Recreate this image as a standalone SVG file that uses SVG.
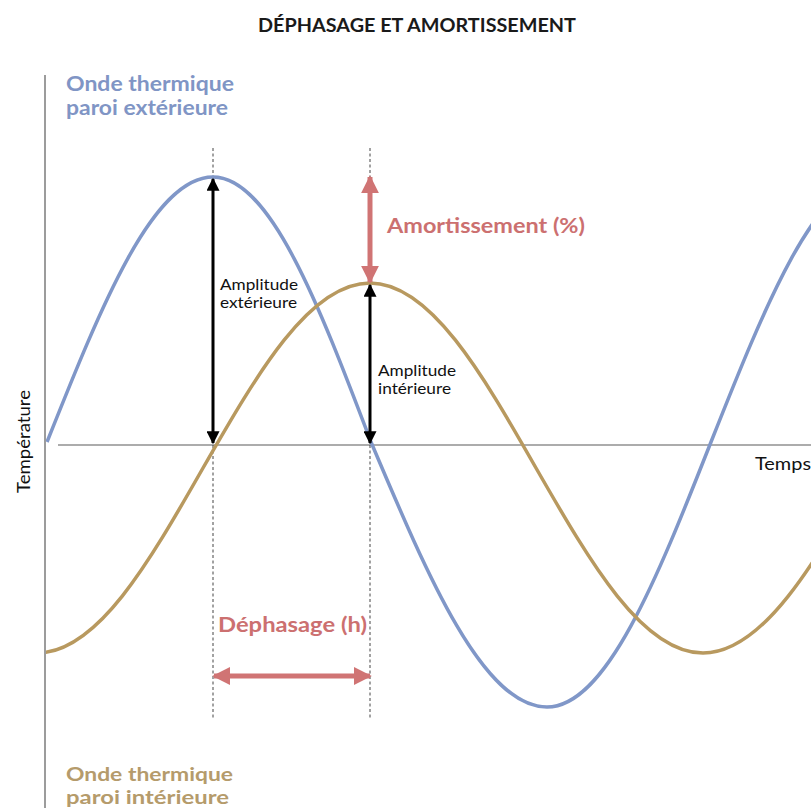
<svg xmlns="http://www.w3.org/2000/svg" width="811" height="811" viewBox="0 0 811 811">
<style>
  text { font-family: Lato, "Open Sans", "Liberation Sans", sans-serif; }
  .title { font-size: 18.5px; font-weight: 700; fill: #1a1a1a; }
  .lbl-blue { font-size: 20px; font-weight: 700; fill: #8095c5; }
  .lbl-gold { font-size: 19.5px; font-weight: 700; fill: #b59b6b; }
  .lbl-red { font-size: 21px; font-weight: 700; fill: #cc7070; }
  .small { font-size: 16px; fill: #111; }
  .axis-t { font-size: 16.5px; fill: #111; }
  .axis { stroke: #5a5a5a; stroke-width: 1.2; fill: none; }
  .dash { stroke: #444; stroke-width: 1; stroke-dasharray: 3 2.5; fill: none; }
  .blue { stroke: #8097c8; stroke-width: 3.5; fill: none; }
  .gold { stroke: #b8995f; stroke-width: 3.5; fill: none; }
  .blk { stroke: #000; stroke-width: 3; fill: none; }
  .red { stroke: #d07474; stroke-width: 5; fill: none; }
</style>
<defs>
  <marker id="ab" viewBox="0 0 10 10" refX="9" refY="5" markerWidth="13" markerHeight="13" markerUnits="userSpaceOnUse" orient="auto-start-reverse">
    <path d="M0,0 L10,5 L0,10 Z" fill="#000"/>
  </marker>
  <marker id="ar" viewBox="0 0 10 10" refX="9" refY="5" markerWidth="18" markerHeight="18" markerUnits="userSpaceOnUse" orient="auto-start-reverse">
    <path d="M0,0 L10,5 L0,10 Z" fill="#d07474"/>
  </marker>
  <clipPath id="plot"><rect x="46" y="0" width="765" height="811"/></clipPath>
</defs>

<text class="title" x="258" y="32" textLength="318" lengthAdjust="spacingAndGlyphs">DÉPHASAGE ET AMORTISSEMENT</text>

<g id="axes">
  <line class="axis" x1="45" y1="75" x2="45" y2="808"/>
  <line class="axis" x1="58" y1="445" x2="811" y2="445"/>
  <text class="axis-t" transform="translate(30,493) rotate(-90)" textLength="103" lengthAdjust="spacingAndGlyphs">Température</text>
  <text class="axis-t" x="755" y="470" textLength="56" lengthAdjust="spacingAndGlyphs">Temps</text>
</g>

<g id="guides">
  <line class="dash" x1="213" y1="148" x2="213" y2="720"/>
  <line class="dash" x1="370" y1="148" x2="370" y2="720"/>
</g>

<g id="onde-exterieure">
  <path class="blue" clip-path="url(#plot)" d="M47,442 C101.1,306.3 152.9,177 213,177 C270.2,177 319.5,306.3 371,442 C428.4,577.7 483.3,707 547,707 C606.4,707 657.5,577.7 711,442 C764.8,306.3 816.3,177 876,177"/>
  <text class="lbl-blue" x="66" y="91" textLength="168" lengthAdjust="spacingAndGlyphs">Onde thermique</text>
  <text class="lbl-blue" x="66" y="115" textLength="162" lengthAdjust="spacingAndGlyphs">paroi extérieure</text>
</g>

<g id="onde-interieure">
  <path class="gold" clip-path="url(#plot)" d="M37,653 C97.1,653 148.9,562.8 203,468 C257.5,373.2 309.6,283 370,283 C430.1,283 481.9,373.2 536,468 C590.5,562.8 642.6,653 703,653 C763.1,653 814.9,562.8 869,468"/>
  <text class="lbl-gold" x="66" y="781" textLength="167" lengthAdjust="spacingAndGlyphs">Onde thermique</text>
  <text class="lbl-gold" x="66" y="804" textLength="163" lengthAdjust="spacingAndGlyphs">paroi intérieure</text>
</g>

<g id="connectors">
  <line class="blk" x1="213" y1="179" x2="213" y2="443" marker-start="url(#ab)" marker-end="url(#ab)"/>
  <line class="blk" x1="370" y1="285" x2="370" y2="443" marker-start="url(#ab)" marker-end="url(#ab)"/>
  <line class="red" x1="370" y1="177" x2="370" y2="282" marker-start="url(#ar)" marker-end="url(#ar)"/>
  <line class="red" x1="214" y1="676" x2="370" y2="676" marker-start="url(#ar)" marker-end="url(#ar)"/>
</g>

<g id="amplitude-ext">
  <text class="small" x="220" y="290" textLength="78" lengthAdjust="spacingAndGlyphs">Amplitude</text>
  <text class="small" x="220" y="308" textLength="77" lengthAdjust="spacingAndGlyphs">extérieure</text>
</g>
<g id="amplitude-int">
  <text class="small" x="378" y="376" textLength="78" lengthAdjust="spacingAndGlyphs">Amplitude</text>
  <text class="small" x="378" y="394" textLength="73" lengthAdjust="spacingAndGlyphs">intérieure</text>
</g>
<g id="amortissement">
  <text class="lbl-red" x="387" y="233" textLength="198" lengthAdjust="spacingAndGlyphs">Amortissement (%)</text>
</g>
<g id="dephasage">
  <text class="lbl-red" x="218" y="632" textLength="149" lengthAdjust="spacingAndGlyphs">Déphasage (h)</text>
</g>
</svg>
